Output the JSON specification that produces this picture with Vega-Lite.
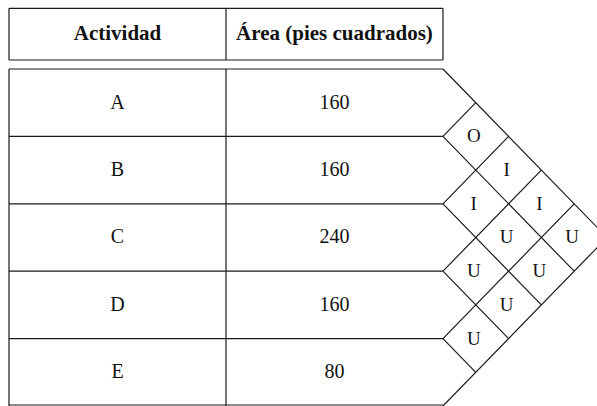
{
  "$schema": "https://vega.github.io/schema/vega-lite/v6.json",
  "width": 597,
  "height": 406,
  "padding": 0,
  "autosize": {"type": "none"},
  "background": "white",
  "config": {"view": {"stroke": null}, "font": "Liberation Serif"},
  "datasets": {
    "actividades": [
      {"actividad": "A", "area": 160, "idx": 0},
      {"actividad": "B", "area": 160, "idx": 1},
      {"actividad": "C", "area": 240, "idx": 2},
      {"actividad": "D", "area": 160, "idx": 3},
      {"actividad": "E", "area": 80, "idx": 4}
    ],
    "relaciones": [
      {"de": "A", "a": "B", "rel": "O", "i": 0, "j": 1},
      {"de": "A", "a": "C", "rel": "I", "i": 0, "j": 2},
      {"de": "A", "a": "D", "rel": "I", "i": 0, "j": 3},
      {"de": "A", "a": "E", "rel": "U", "i": 0, "j": 4},
      {"de": "B", "a": "C", "rel": "I", "i": 1, "j": 2},
      {"de": "B", "a": "D", "rel": "U", "i": 1, "j": 3},
      {"de": "B", "a": "E", "rel": "U", "i": 1, "j": 4},
      {"de": "C", "a": "D", "rel": "U", "i": 2, "j": 3},
      {"de": "C", "a": "E", "rel": "U", "i": 2, "j": 4},
      {"de": "D", "a": "E", "rel": "U", "i": 3, "j": 4}
    ],
    "lineas": [
      {"x1": -6.616, "y1": -0.9006, "x2": 0, "y2": -0.9006},
      {"x1": -6.616, "y1": -0.1335, "x2": 0, "y2": -0.1335},
      {"x1": -6.616, "y1": -0.9006, "x2": -6.616, "y2": -0.1335},
      {"x1": 0, "y1": -0.9006, "x2": 0, "y2": -0.1335},
      {"x1": -3.308, "y1": -0.9006, "x2": -3.308, "y2": -0.1335},
      {"x1": -6.616, "y1": 0, "x2": 0, "y2": 0},
      {"x1": -6.616, "y1": 1, "x2": 0, "y2": 1},
      {"x1": -6.616, "y1": 2, "x2": 0, "y2": 2},
      {"x1": -6.616, "y1": 3, "x2": 0, "y2": 3},
      {"x1": -6.616, "y1": 4, "x2": 0, "y2": 4},
      {"x1": -6.616, "y1": 4.985, "x2": 0, "y2": 4.985},
      {"x1": -6.616, "y1": 0, "x2": -6.616, "y2": 5},
      {"x1": -3.308, "y1": 0, "x2": -3.308, "y2": 5},
      {"x1": 0, "y1": 0, "x2": 2.5, "y2": 2.5},
      {"x1": 0, "y1": 1, "x2": 2, "y2": 3},
      {"x1": 0, "y1": 2, "x2": 1.5, "y2": 3.5},
      {"x1": 0, "y1": 3, "x2": 1, "y2": 4},
      {"x1": 0, "y1": 4, "x2": 0.5, "y2": 4.5},
      {"x1": 0, "y1": 1, "x2": 0.5, "y2": 0.5},
      {"x1": 0, "y1": 2, "x2": 1, "y2": 1},
      {"x1": 0, "y1": 3, "x2": 1.5, "y2": 1.5},
      {"x1": 0, "y1": 4, "x2": 2, "y2": 2},
      {"x1": 0, "y1": 5, "x2": 2.5, "y2": 2.5}
    ],
    "encabezado": [
      {"titulo": "Actividad", "col": -4.962},
      {"titulo": "Área (pies cuadrados)", "col": -1.654}
    ]
  },
  "layer": [
    {
      "data": {"name": "lineas"},
      "mark": {"type": "rule", "color": "#1a1a1a", "strokeWidth": 1.2, "clip": true},
      "encoding": {
        "x": {"field": "x1", "type": "quantitative", "scale": {"domain": [-6.753, 2.348], "nice": false, "zero": false}, "axis": null},
        "y": {"field": "y1", "type": "quantitative", "scale": {"domain": [-1.0237, 5], "nice": false, "zero": false, "reverse": true}, "axis": null},
        "x2": {"field": "x2"},
        "y2": {"field": "y2"}
      }
    },
    {
      "data": {"name": "encabezado"},
      "mark": {"type": "text", "font": "Liberation Serif", "fontWeight": "bold", "fontSize": 21, "color": "#111", "baseline": "middle", "align": "center"},
      "encoding": {
        "x": {"field": "col", "type": "quantitative"},
        "y": {"datum": -0.519, "type": "quantitative"},
        "text": {"field": "titulo"}
      }
    },
    {
      "data": {"name": "actividades"},
      "transform": [{"calculate": "datum.idx + 0.5", "as": "fila"}],
      "mark": {"type": "text", "font": "Liberation Serif", "fontSize": 20, "color": "#111", "baseline": "middle", "align": "center"},
      "encoding": {
        "x": {"datum": -4.962, "type": "quantitative"},
        "y": {"field": "fila", "type": "quantitative"},
        "text": {"field": "actividad"}
      }
    },
    {
      "data": {"name": "actividades"},
      "transform": [{"calculate": "datum.idx + 0.5", "as": "fila"}],
      "mark": {"type": "text", "font": "Liberation Serif", "fontSize": 20, "color": "#111", "baseline": "middle", "align": "center"},
      "encoding": {
        "x": {"datum": -1.654, "type": "quantitative"},
        "y": {"field": "fila", "type": "quantitative"},
        "text": {"field": "area"}
      }
    },
    {
      "data": {"name": "relaciones"},
      "transform": [
        {"calculate": "(datum.j - datum.i) / 2", "as": "px"},
        {"calculate": "(datum.i + datum.j + 1) / 2", "as": "py"}
      ],
      "mark": {"type": "text", "font": "Liberation Serif", "fontSize": 19, "color": "#111", "baseline": "middle", "align": "center", "dx": -2},
      "encoding": {
        "x": {"field": "px", "type": "quantitative"},
        "y": {"field": "py", "type": "quantitative"},
        "text": {"field": "rel"}
      }
    }
  ]
}
